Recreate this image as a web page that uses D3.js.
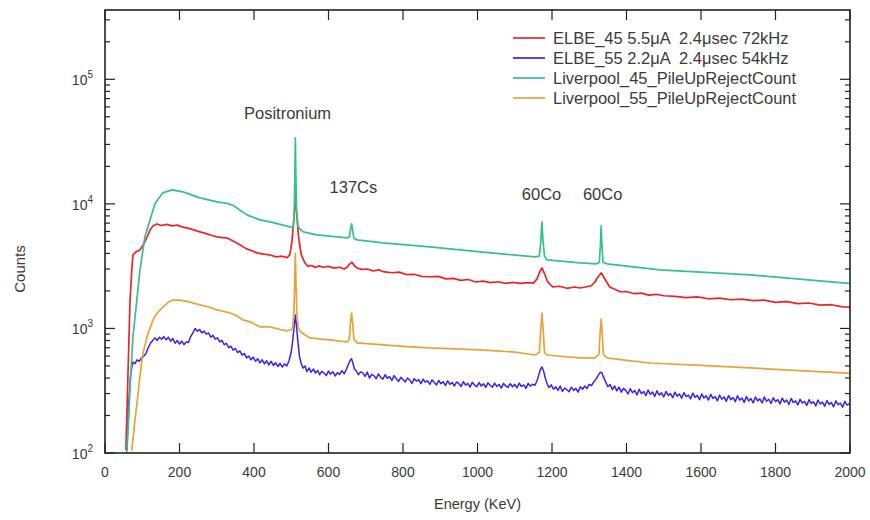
<!DOCTYPE html>
<html>
<head>
<meta charset="utf-8">
<script src="https://cdn.jsdelivr.net/npm/d3@7"></script>
<style>
  html, body { margin: 0; padding: 0; width: 100%; height: 100%; background: #fff; overflow: hidden; }
  svg { display: block; }
  text { font-family: "Liberation Sans", Arial, sans-serif; fill: #3a3a3a; }
</style>
</head>
<body>
<svg id="chart" width="100%" height="100%" viewBox="0 0 870 520" preserveAspectRatio="xMidYMid meet"></svg>
<script>
// spectra: [energy keV, counts]
const elbe45 = [[56,105],[62,464],[67,1600],[72,3000],[75,3890],[85,4150],[94,4270],[107,4950],[115,5600],[121,6180],[129,6660],[140,6900],[150,6700],[166,6850],[180,6650],[195,6750],[209,6500],[225,6350],[240,6150],[255,5960],[270,5800],[285,5600],[301,5430],[315,5350],[328,5330],[345,5000],[362,4690],[380,4350],[395,4200],[408,4040],[425,3950],[443,3890],[460,3750],[475,3800],[489,3700],[496,3900],[502,5000],[507,7600],[511,11500],[515,8000],[520,5300],[527,3900],[537,3350],[545,3150],[555,3200],[565,3080],[575,3180],[585,3100],[600,3150],[615,3050],[630,3100],[642,3000],[650,3100],[657,3300],[663,3400],[669,3200],[677,3050],[690,2980],[705,3000],[720,2900],[735,2950],[750,2840],[770,2800],[790,2830],[810,2700],[830,2720],[850,2620],[872,2600],[895,2620],[915,2500],[935,2520],[955,2430],[975,2470],[995,2360],[1015,2400],[1035,2330],[1055,2370],[1075,2300],[1095,2340],[1115,2300],[1135,2330],[1150,2310],[1160,2500],[1166,2800],[1173,3060],[1180,2750],[1187,2400],[1195,2250],[1203,2150],[1220,2180],[1240,2100],[1260,2150],[1275,2110],[1290,2150],[1305,2200],[1315,2350],[1322,2550],[1332,2790],[1340,2550],[1347,2350],[1355,2150],[1370,2050],[1383,1970],[1400,1980],[1420,1900],[1440,1920],[1460,1850],[1480,1880],[1500,1830],[1530,1810],[1560,1770],[1590,1790],[1620,1730],[1650,1750],[1680,1700],[1710,1720],[1740,1670],[1770,1690],[1800,1620],[1830,1640],[1860,1580],[1890,1600],[1920,1540],[1950,1550],[1980,1490],[2000,1480]];

const elbe55 = [[59,105],[64,252],[68,400],[72,491],[75,538],[80,520],[86,560],[92,545],[98,580],[104,600],[110,630],[116,700],[122,760],[128,800],[134,840],[140,800],[146,850],[152,820],[158,860],[164,810],[170,850],[176,790],[182,830],[188,760],[194,800],[200,750],[206,790],[212,740],[218,780],[224,770],[230,860],[236,920],[242,1000],[248,950],[254,980],[260,920],[266,950],[272,900],[278,920],[284,850],[290,880],[296,820],[302,840],[308,780],[314,800],[320,740],[326,760],[332,700],[338,720],[344,670],[350,690],[356,640],[362,660],[368,610],[374,630],[380,580],[386,600],[392,560],[398,590],[404,545],[410,570],[416,530],[422,560],[428,520],[434,550],[440,510],[446,545],[452,505],[458,530],[464,495],[470,525],[476,490],[482,520],[488,500],[494,550],[500,650],[504,800],[508,1050],[511,1280],[514,1050],[518,780],[522,600],[527,520],[532,480],[537,500],
  [542,450],[548,482],[553,445],[560,472],[565,438],[571,460],[576,425],[582,452],[588,440],[594,418],[600,455],[605,430],[612,448],[618,415],[624,442],[630,428],[636,458],[642,432],[648,470],[654,520],[659,560],[662,570],[666,520],[670,470],[675,455],[680,425],[686,448],[692,440],[698,412],[704,446],[710,400],[716,428],[722,418],[728,395],[734,432],[740,405],[746,392],[752,425],[758,398],[764,410],[770,382],[776,418],[782,395],[788,376],[794,405],[800,390],[806,372],[812,400],[818,385],[824,362],[830,395],[836,378],[842,388],[848,360],[854,392],[860,370],[866,380],[872,355],[878,386],[884,368],[890,352],[896,382],[902,360],[908,374],[914,348],[920,380],[926,356],[932,368],[938,345],[944,372],[950,360],[956,342],[962,374],[968,350],[974,362],[980,338],[986,370],[992,352],[998,340],[1004,368],[1010,345],[1016,360],[1022,336],[1028,366],[1034,350],[1040,338],[1046,364],[1052,342],[1058,355],[1064,332],[1070,362],[1076,345],[1082,336],[1088,360],[1094,340],[1100,356],[1106,334],[1112,364],[1118,342],[1124,352],[1130,330],[1136,362],[1142,345],[1148,356],[1154,350],[1160,380],[1164,420],[1169,470],[1173,490],[1177,460],[1182,400],[1187,360],[1192,335],[1198,352],[1204,325],[1210,340],[1216,318],[1222,345],[1228,312],[1234,332],[1240,322],[1246,310],[1252,338],[1258,318],[1264,330],[1270,308],[1276,340],[1282,325],[1288,345],[1294,330],[1300,355],[1306,348],[1312,372],[1318,390],[1324,420],[1330,445],[1334,440],[1338,410],[1344,372],[1350,340],[1356,355],[1362,322],[1368,345],[1374,315],[1380,338],[1386,308],[1392,330],[1398,318],[1404,298],[1410,328],[1416,305],[1422,318],[1428,292],[1434,325],[1440,300],[1446,312],[1452,288],[1458,320],[1464,296],[1470,308],[1476,285],[1482,316],[1488,292],[1494,304],[1500,282],[1506,312],[1512,290],[1518,300],[1524,278],[1530,308],[1536,286],[1542,298],[1548,275],[1554,305],[1560,284],[1566,292],[1572,272],[1578,302],[1584,280],[1590,290],[1596,268],[1602,298],[1608,276],[1614,288],[1620,266],[1626,296],[1632,274],[1638,284],[1644,262],[1650,292],[1656,270],[1662,282],[1668,260],[1674,290],[1680,268],[1686,278],[1692,258],[1698,288],[1704,266],[1710,276],[1716,255],[1722,284],[1728,262],[1734,274],[1740,252],[1746,282],[1752,262],[1758,272],[1764,252],[1770,282],[1776,260],[1782,270],[1788,250],[1794,278],[1800,258],[1806,268],[1812,248],[1818,276],[1824,256],[1830,266],[1836,245],[1842,274],[1848,254],[1854,262],[1860,243],[1866,270],[1872,252],[1878,260],[1884,241],[1890,268],[1896,250],[1902,258],[1908,239],[1914,266],[1920,248],[1926,256],[1932,237],[1938,264],[1944,246],[1950,254],[1956,235],[1962,262],[1968,244],[1974,252],[1980,233],[1986,260],[1992,242],[2000,250]];

const liverpool45 = [[58,100],[64,200],[67,330],[75,855],[94,2950],[107,5430],[121,7440],[134,10000],[155,12260],[180,12950],[209,12480],[255,11170],[301,10380],[328,10100],[345,9700],[360,9000],[381,8160],[416,7440],[443,7170],[497,6530],[505,6450],[508,8000],[510,20000],[511,33900],[512,20000],[514,9000],[518,6600],[525,6200],[532,5960],[569,5640],[650,5330],[656,5400],[659,6200],[662,6910],[665,6100],[668,5300],[677,5140],[746,4860],[872,4510],[1007,4120],[1095,3890],[1154,3750],[1166,3800],[1170,5000],[1173,7170],[1176,5000],[1180,3800],[1187,3550],[1275,3360],[1320,3300],[1327,3400],[1330,4700],[1332,6660],[1334,4700],[1337,3400],[1348,3300],[1490,2950],[1732,2690],[1981,2320],[2000,2300]];

const liverpool55 = [[72,105],[80,180],[86,252],[94,420],[102,636],[115,900],[129,1170],[140,1330],[156,1490],[170,1620],[183,1690],[200,1690],[220,1650],[255,1545],[280,1480],[301,1410],[336,1330],[350,1280],[370,1170],[389,1130],[416,1030],[443,1030],[470,980],[489,955],[503,980],[507,1300],[509,2200],[511,4000],[513,2200],[515,1300],[519,1000],[529,920],[550,839],[580,820],[604,808],[630,790],[650,779],[656,820],[659,1100],[662,1330],[665,1100],[668,820],[677,765],[746,737],[810,715],[872,697],[940,685],[1007,672],[1050,660],[1095,648],[1154,612],[1166,640],[1170,1000],[1173,1330],[1176,1000],[1180,640],[1187,612],[1230,595],[1275,580],[1315,580],[1326,620],[1329,900],[1332,1190],[1335,900],[1338,620],[1348,580],[1400,555],[1463,528],[1600,505],[1732,482],[1850,460],[1981,439],[2000,435]];

const seriesNames = ["ELBE_45 5.5\u03bcA  2.4\u03bcsec 72kHz", "ELBE_55 2.2\u03bcA  2.4\u03bcsec 54kHz",
  "Liverpool_45_PileUpRejectCount", "Liverpool_55_PileUpRejectCount"];
const seriesData = [elbe45, elbe55, liverpool45, liverpool55];
const seriesColors = ["#e8262a", "#3a22e8", "#35c28a", "#e8a23a"];

const peakLabels = [
  { text: "Positronium", e: 490, c: 48000 },
  { text: "137Cs", e: 667, c: 12200 },
  { text: "60Co", e: 1172, c: 10700 },
  { text: "60Co", e: 1336, c: 10700 }
];

const xTicks = [0, 200, 400, 600, 800, 1000, 1200, 1400, 1600, 1800, 2000];
const yDecades = [2, 3, 4, 5];

const margin = { top: 10, right: 20, bottom: 67, left: 105 };
const width = 870, height = 520;
const innerWidth = width - margin.left - margin.right;
const innerHeight = height - margin.top - margin.bottom;

const svg = d3.select("#chart");
const g = svg.append("g").attr("transform", `translate(${margin.left},${margin.top})`);

const x = d3.scaleLinear().domain([0, 2000]).range([0, innerWidth]);
const y = d3.scaleLog().domain([100, 3.6e5]).range([innerHeight, 0]);

g.append("clipPath").attr("id", "plot-clip")
  .append("rect").attr("width", innerWidth).attr("height", innerHeight);

// minor ticks for log axis
const minorVals = [];
[100, 1000, 10000, 100000].forEach(base => {
  for (let k = 2; k <= 9; k++) if (base * k <= 3.6e5) minorVals.push(base * k);
});
const majorVals = yDecades.map(p => Math.pow(10, p));

const ticks = g.append("g").attr("stroke", "#222").attr("stroke-width", 1.2);
// y ticks left and right, pointing inward
[[0, 1], [innerWidth, -1]].forEach(([x0, dir]) => {
  ticks.selectAll(null).data(majorVals).join("line")
    .attr("x1", x0).attr("x2", x0 + dir * 10)
    .attr("y1", d => y(d)).attr("y2", d => y(d));
  ticks.selectAll(null).data(minorVals).join("line")
    .attr("x1", x0).attr("x2", x0 + dir * 5)
    .attr("y1", d => y(d)).attr("y2", d => y(d));
});
// x ticks bottom and top
[[innerHeight, -1], [0, 1]].forEach(([y0, dir]) => {
  ticks.selectAll(null).data(xTicks).join("line")
    .attr("x1", d => x(d)).attr("x2", d => x(d))
    .attr("y1", y0).attr("y2", y0 + dir * 10);
});

const line = d3.line()
  .x(d => x(d[0]))
  .y(d => y(d[1]));

g.append("g").attr("clip-path", "url(#plot-clip)")
  .selectAll("path")
  .data(seriesData)
  .join("path")
  .attr("fill", "none")
  .attr("stroke", (d, i) => seriesColors[i])
  .attr("stroke-width", (d, i) => i === 1 ? 1.5 : 1.7)
  .attr("stroke-linejoin", "round")
  .attr("d", line);

// frame
g.append("rect")
  .attr("width", innerWidth).attr("height", innerHeight)
  .attr("fill", "none").attr("stroke", "#222").attr("stroke-width", 1.6);

// x tick labels
g.append("g").selectAll("text").data(xTicks).join("text")
  .attr("x", d => x(d)).attr("y", innerHeight + 24)
  .attr("text-anchor", "middle").attr("font-size", 14)
  .text(d => d);

// y tick labels 10^n
const yl = g.append("g").selectAll("text").data(yDecades).join("text")
  .attr("x", -12).attr("y", d => y(Math.pow(10, d)) + 6)
  .attr("text-anchor", "end").attr("font-size", 14);
yl.append("tspan").text("10");
yl.append("tspan").attr("dy", -7).attr("font-size", 10).text(d => d);

// axis titles
g.append("text")
  .attr("x", x(1000)).attr("y", innerHeight + 56)
  .attr("text-anchor", "middle").attr("font-size", 14.5)
  .text("Energy (KeV)");
g.append("text")
  .attr("transform", `translate(${-80},${y(3000)}) rotate(-90)`)
  .attr("text-anchor", "middle").attr("font-size", 15)
  .text("Counts");

// peak annotations
g.append("g").selectAll("text").data(peakLabels).join("text")
  .attr("x", d => x(d.e)).attr("y", d => y(d.c))
  .attr("text-anchor", "middle").attr("font-size", 16.5)
  .text(d => d.text);

// legend
const legend = g.append("g").attr("transform", `translate(${408},${28})`);
seriesNames.forEach((name, i) => {
  const row = legend.append("g").attr("transform", `translate(0,${i * 20})`);
  row.append("line").attr("x1", 0).attr("x2", 32).attr("y1", 0).attr("y2", 0)
    .attr("stroke", seriesColors[i]).attr("stroke-width", 1.7);
  row.append("text").attr("x", 40).attr("y", 5.5).attr("font-size", 16.5)
    .style("white-space", "pre").text(name);
});
</script>
</body>
</html>
